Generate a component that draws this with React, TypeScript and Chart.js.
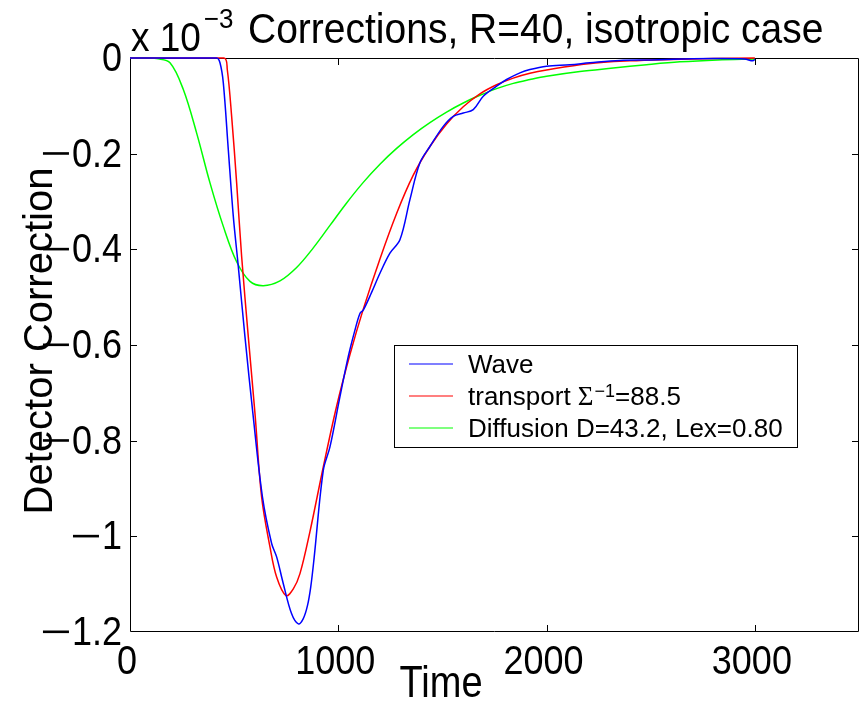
import React, { useEffect, useRef } from "react";
import { Chart, registerables } from "chart.js";

Chart.register(...registerables);

// ---- data (values in units of 1e-3) ----
const xTickValues = [0, 1000, 2000, 3000];
const yTickValues = [0, -0.2, -0.4, -0.6, -0.8, -1, -1.2];

const waveTime = [0, 416, 432, 448, 472, 496, 520, 552, 590, 636, 680, 704, 736, 776, 808, 832, 852, 868, 884, 928, 960, 1008, 1048, 1080, 1104, 1120, 1160, 1200, 1248, 1296, 1344, 1392, 1440, 1504, 1552, 1600, 1648, 1696, 1760, 1808, 1872, 1920, 2000, 2112, 2208, 2352, 2500, 2650, 2800, 2950, 2990, 3000];
const waveValue = [0, 0, -0.010, -0.052, -0.192, -0.331, -0.436, -0.583, -0.743, -0.918, -1.015, -1.043, -1.099, -1.162, -1.183, -1.172, -1.145, -1.105, -1.045, -0.862, -0.813, -0.708, -0.624, -0.569, -0.534, -0.527, -0.490, -0.450, -0.408, -0.380, -0.296, -0.219, -0.185, -0.143, -0.122, -0.115, -0.108, -0.080, -0.059, -0.045, -0.031, -0.024, -0.017, -0.014, -0.010, -0.005, -0.004, -0.002, -0.001, -0.002, -0.006, -0.003];

const transportTime = [0, 451, 467, 488, 512, 536, 568, 600, 632, 672, 704, 749, 784, 816, 864, 928, 992, 1056, 1120, 1200, 1280, 1360, 1440, 1520, 1600, 1680, 1760, 1840, 1920, 2000, 2200, 2400, 2600, 2800, 3000];
const transportValue = [0, 0, -0.024, -0.122, -0.261, -0.415, -0.583, -0.743, -0.918, -1.022, -1.085, -1.124, -1.110, -1.078, -0.990, -0.855, -0.728, -0.620, -0.525, -0.420, -0.325, -0.245, -0.185, -0.138, -0.102, -0.075, -0.056, -0.042, -0.032, -0.025, -0.012, -0.006, -0.003, -0.001, 0];

const diffusionTime = [0, 100, 127, 192, 256, 320, 384, 448, 512, 576, 640, 720, 800, 880, 960, 1040, 1120, 1200, 1280, 1360, 1440, 1520, 1600, 1680, 1760, 1840, 1920, 2000, 2160, 2320, 2480, 2640, 2820, 3000];
const diffusionValue = [0, 0, -0.001, -0.010, -0.066, -0.157, -0.261, -0.352, -0.426, -0.467, -0.476, -0.466, -0.438, -0.397, -0.350, -0.303, -0.260, -0.222, -0.189, -0.160, -0.135, -0.113, -0.094, -0.078, -0.064, -0.053, -0.045, -0.038, -0.028, -0.021, -0.014, -0.008, -0.004, -0.002];

const seriesNames = ["Wave", "transport \u03A3\u207B\u00B9=88.5", "Diffusion D=43.2, Lex=0.80"];
const seriesColors = ["#0000ff", "#ff0000", "#00ff00"];

const titleText = "Corrections, R=40, isotropic case";
const multiplierBase = "x 10";
const multiplierExp = "\u22123";
const xLabel = "Time";
const yLabel = "Detector Correction";

const FONT = '"Liberation Sans", Arial, Helvetica, sans-serif';
const SERIF = '"Liberation Serif", "Times New Roman", serif';

function toPoints(t: number[], v: number[]) {
  return t.map((tt, i) => ({ x: tt, y: v[i] }));
}

function absLabel(v: number): string {
  if (Math.abs(v) < 1e-9) return "0";
  return Math.abs(v).toFixed(1).replace(/\.0$/, "");
}

function stretchText(ctx: any, text: string, x: number, baseline: number, size: number, sy: number, align: string) {
  ctx.save();
  ctx.font = `${size}px ${FONT}`;
  ctx.textAlign = align;
  ctx.textBaseline = "alphabetic";
  ctx.translate(x, baseline);
  ctx.scale(1, sy);
  ctx.fillText(text, 0, 0);
  ctx.restore();
}

const TICK_SIZE = 36;
const TICK_SY = 1.12;

const decorPlugin = {
  id: "decor",
  beforeDatasetsDraw(chart: any) {
    const { ctx, chartArea: a, scales } = chart;
    const x = scales.x;
    const y = scales.y;
    ctx.save();
    ctx.strokeStyle = "#000";
    ctx.lineWidth = 1;
    ctx.beginPath();
    ctx.rect(Math.round(a.left) + 0.5, Math.round(a.top) + 0.5, Math.round(a.right - a.left) - 1, Math.round(a.bottom - a.top) - 1);
    ctx.stroke();
    const tl = 7;
    ctx.beginPath();
    xTickValues.forEach((v) => {
      const px = Math.round(x.getPixelForValue(v)) + 0.5;
      if (px <= a.left + 2 || px >= a.right - 2) return;
      ctx.moveTo(px, a.bottom);
      ctx.lineTo(px, a.bottom - tl);
      ctx.moveTo(px, a.top);
      ctx.lineTo(px, a.top + tl);
    });
    yTickValues.forEach((v) => {
      const py = Math.round(y.getPixelForValue(v)) + 0.5;
      if (py <= a.top + 2 || py >= a.bottom - 2) return;
      ctx.moveTo(a.left, py);
      ctx.lineTo(a.left + tl, py);
      ctx.moveTo(a.right, py);
      ctx.lineTo(a.right - tl, py);
    });
    ctx.stroke();
    ctx.restore();
  },
  afterDraw(chart: any) {
    const { ctx, chartArea: a, scales } = chart;
    const x = scales.x;
    const y = scales.y;
    ctx.save();
    ctx.fillStyle = "#000";

    x.ticks.forEach((t: any) => {
      const px = x.getPixelForValue(t.value);
      stretchText(ctx, absLabel(t.value), px - 3, a.bottom + 42, TICK_SIZE, TICK_SY, "center");
    });
    y.ticks.forEach((t: any) => {
      const py = y.getPixelForValue(t.value);
      const right = a.left - 8;
      const base = py + 13;
      const body = absLabel(t.value);
      stretchText(ctx, body, right, base, TICK_SIZE, TICK_SY, "right");
      if (t.value < 0) {
        ctx.save();
        ctx.font = `${TICK_SIZE}px ${FONT}`;
        const bw = ctx.measureText(body).width;
        ctx.fillRect(right - bw - 29, py - 1.5, 26, 2.6);
        ctx.restore();
      }
    });

    stretchText(ctx, multiplierBase, 131, 51, 37, 1.1, "left");
    ctx.font = `37px ${FONT}`;
    const mw = ctx.measureText(multiplierBase).width;
    stretchText(ctx, multiplierExp, 131 + mw + 3, 28, 26, 1.05, "left");

    stretchText(ctx, titleText, 248, 43, 39, 1.1, "left");

    stretchText(ctx, xLabel, 441, 697, 38, 1.15, "center");

    ctx.save();
    ctx.translate(52, 341);
    ctx.rotate(-Math.PI / 2);
    ctx.font = `40px ${FONT}`;
    ctx.textAlign = "center";
    ctx.textBaseline = "alphabetic";
    ctx.fillText(yLabel, 0, 0);
    ctx.restore();

    const bx = 394, by = 345, bw = 403, bh = 102;
    ctx.fillStyle = "#fff";
    ctx.fillRect(bx, by, bw, bh);
    ctx.strokeStyle = "#000";
    ctx.lineWidth = 1;
    ctx.strokeRect(bx + 0.5, by + 0.5, bw, bh);
    const rows = [373, 405, 437];
    const ds = chart.data.datasets;
    ctx.textAlign = "left";
    ctx.textBaseline = "alphabetic";
    rows.forEach((base, i) => {
      const ly = base - 9;
      ctx.strokeStyle = ds[i].borderColor;
      ctx.lineWidth = 1.2;
      ctx.beginPath();
      ctx.moveTo(409, ly);
      ctx.lineTo(453, ly);
      ctx.stroke();
      ctx.fillStyle = "#000";
      if (i === 1) {
        let cx = 468;
        ctx.font = `26px ${FONT}`;
        ctx.fillText("transport ", cx, base);
        cx += ctx.measureText("transport ").width;
        ctx.font = `27px ${SERIF}`;
        ctx.fillText("\u03A3", cx, base);
        cx += ctx.measureText("\u03A3").width + 1;
        ctx.font = `18px ${FONT}`;
        ctx.fillText("\u22121", cx, base - 8);
        cx += ctx.measureText("\u22121").width;
        ctx.font = `26px ${FONT}`;
        ctx.fillText("=88.5", cx, base);
      } else {
        ctx.font = `26px ${FONT}`;
        ctx.fillText(ds[i].label, 468, base);
      }
    });
    ctx.restore();
  },
};

export default function App() {
  const ref = useRef<HTMLCanvasElement | null>(null);

  useEffect(() => {
    if (!ref.current) return;
    const mk = (label: string, t: number[], v: number[], color: string) => ({
      label,
      data: toPoints(t, v),
      borderColor: color,
      backgroundColor: color,
      borderWidth: 1.5,
      pointRadius: 0,
      fill: false,
      tension: 0.35,
      clip: false as any,
    });
    const chart = new Chart(ref.current, {
      type: "line",
      data: {
        datasets: [
          mk(seriesNames[0], waveTime, waveValue, seriesColors[0]),
          mk(seriesNames[1], transportTime, transportValue, seriesColors[1]),
          mk(seriesNames[2], diffusionTime, diffusionValue, seriesColors[2]),
        ],
      },
      options: {
        animation: false,
        responsive: false,
        devicePixelRatio: 1,
        layout: { padding: { top: 58, right: 3, left: 0, bottom: 0 } },
        plugins: { legend: { display: false }, title: { display: false }, tooltip: { enabled: false } },
        scales: {
          x: {
            type: "linear",
            min: 0,
            max: 3500,
            grid: { display: false, drawTicks: false },
            border: { display: false },
            afterBuildTicks: (s: any) => {
              s.ticks = xTickValues.map((v) => ({ value: v }));
            },
            afterFit: (s: any) => {
              s.height = 69;
            },
            ticks: { display: false, autoSkip: false },
          },
          y: {
            type: "linear",
            min: -1.2,
            max: 0,
            grid: { display: false, drawTicks: false },
            border: { display: false },
            afterBuildTicks: (s: any) => {
              s.ticks = yTickValues.map((v) => ({ value: v }));
            },
            afterFit: (s: any) => {
              s.width = 130;
            },
            ticks: { display: false, autoSkip: false },
          },
        },
      },
      plugins: [decorPlugin],
    });
    return () => chart.destroy();
  }, []);

  return (
    <div style={{ position: "absolute", left: 0, top: 0, width: 862, height: 701, background: "#fff" }}>
      <canvas ref={ref} width={862} height={701} style={{ width: 862, height: 701, display: "block" }} />
    </div>
  );
}
